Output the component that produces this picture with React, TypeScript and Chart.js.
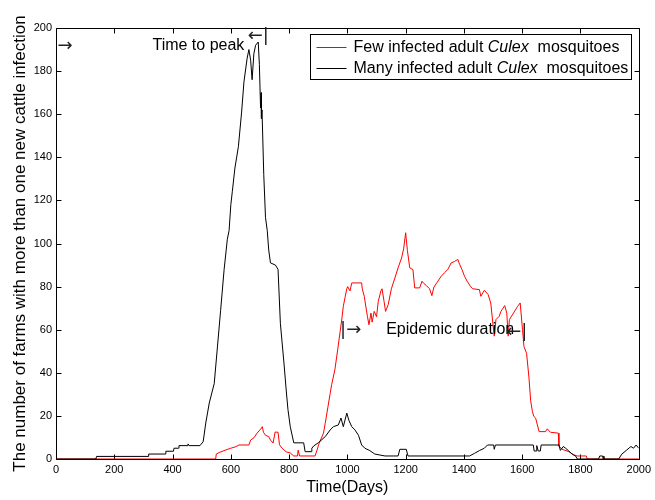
import React, { useEffect, useRef } from "react";
import { Chart, registerables } from "chart.js";

Chart.register(...registerables);

// ---- Data ----
const manyDays = [
  0, 137, 139, 316, 318, 375, 377, 403, 405, 420, 422, 450, 453, 457, 494, 505, 514, 526, 543, 554,
  565, 577, 588, 594, 600, 605, 614, 626, 637, 645, 656, 662, 668, 673, 679, 685, 694, 698, 702, 704,
  705, 707, 713, 719, 725, 730, 736, 753, 762, 770, 782, 790, 796, 804, 816, 850, 855, 876, 878, 884,
  901, 924, 941, 952, 969, 978, 986, 998, 1005, 1015, 1026, 1038, 1049, 1060, 1077, 1094, 1129, 1174, 1180, 1202,
  1208, 1419, 1436, 1453, 1470, 1481, 1502, 1504, 1508, 1638, 1641, 1648, 1650, 1655, 1662, 1665, 1726, 1731, 1741, 1749,
  1760, 1771, 1783, 1789, 1862, 1866, 1876, 1878, 1880, 1882, 1931, 1942, 1959, 1973, 1982, 1991, 2000,
];
const manyCounts = [
  0, 0, 1.2, 1.2, 2.3, 2.3, 3.6, 3.6, 5, 5, 6.2, 6.2, 7, 6.2, 6.2, 8, 16.7, 26, 35, 52,
  69, 88, 102, 106, 118, 124, 135, 145, 161, 175, 186, 190, 185, 176, 188, 192, 193.5, 183, 163, 170,
  158, 162, 132, 112, 106, 97, 91, 90, 88, 63, 45, 32, 23, 15, 7.5, 7.5, 3.4, 3.4, 5, 6,
  7.6, 10.4, 13.5, 15, 15.8, 19, 15, 21.3, 18, 15, 13.5, 11, 6.5, 5, 3.9, 2.3, 1.4, 1.4, 4.5, 4.5,
  1.4, 1.4, 2.6, 3.9, 5, 6.5, 6.5, 4.5, 6.5, 6.5, 3.7, 3.7, 6.2, 3.7, 3.7, 6.5, 6.5, 4, 5.8, 5,
  3.7, 2.3, 1.4, 0, 0, 1.4, 1.4, 0, 1.4, 0, 0, 2.3, 4.2, 5.8, 5, 6.5, 5,
];

const fewDays = [
  0, 548, 550, 560, 583, 600, 617, 628, 662, 668, 679, 690, 702, 708, 712, 719, 730, 736, 745, 752,
  762, 767, 776, 790, 804, 816, 829, 831, 836, 889, 896, 903, 918, 924, 933, 941, 946, 957, 967, 975,
  981, 986, 992, 998, 1001, 1009, 1015, 1049, 1051, 1058, 1063, 1069, 1074, 1081, 1085, 1092, 1100, 1106, 1115, 1119,
  1126, 1131, 1140, 1151, 1163, 1174, 1186, 1193, 1200, 1206, 1214, 1225, 1231, 1248, 1256, 1262, 1271, 1282, 1290, 1297,
  1308, 1322, 1333, 1345, 1356, 1367, 1379, 1385, 1393, 1402, 1411, 1422, 1430, 1453, 1458, 1470, 1483, 1492, 1504, 1510,
  1521, 1527, 1540, 1547, 1552, 1556, 1570, 1584, 1593, 1601, 1606, 1615, 1623, 1629, 1635, 1640, 1646, 1652, 1658, 1680,
  1686, 1697, 1724, 1726, 1737, 1760, 1777, 1789, 1820, 1823, 2000,
];
const fewCounts = [
  0, 0, 2.3, 3, 4.2, 5, 5.7, 6.5, 6.5, 8.8, 9.8, 12, 13.8, 15, 12.4, 11, 10.4, 8.8, 7.4, 12.5,
  12.4, 6.6, 5, 3.3, 2.8, 1.4, 1.4, 4.1, 1.4, 1.4, 4.2, 7.3, 12, 16.6, 24, 30.5, 34.5, 41.4, 51, 59,
  65, 70.8, 75, 79, 80, 78, 81.7, 81.7, 79, 75.5, 71, 66, 62.3, 67.7, 63.5, 68.5, 66, 73.2, 78, 79,
  73, 68.5, 71.6, 79, 84, 88.7, 93.3, 97.5, 105, 96.7, 88.7, 87.9, 79.4, 79.4, 82.5, 81.5, 80.5, 79, 75.8, 79.8,
  82, 84.8, 86.4, 88, 91, 91.6, 92.6, 90.4, 88, 84.8, 82.5, 80.2, 79, 78.6, 75.5, 78.3, 76.3, 72.4, 57, 64.7,
  66.2, 68.5, 71.2, 67.7, 57, 64.7, 67.7, 70.8, 72.4, 60, 52.2, 49, 38, 27, 22, 19.7, 19, 15.8, 12.7, 12.7,
  14, 12.4, 12, 6, 4.5, 3.4, 1.9, 1.4, 1.4, 0, 0,
];

const xTickStep = 200;
const yTickStep = 20;
const xRange = [0, 2000];
const yRange = [0, 200];

const seriesNames = [
  ["Few infected adult ", "Culex", "  mosquitoes"],
  ["Many infected adult ", "Culex", "  mosquitoes"],
];
const seriesColors = ["#ff0000", "#000000"];

const annotationTexts = ["\u2192", "Time to peak", "\u2190|", "|\u2192", "Epidemic duration", "\u2190|"];
const annotationIsSymbol = [true, false, true, true, false, true];
const annotationDays = [5, 331, 658, 975, 1133, 1545];
const annotationValues = [191.5, 192, 196, 59.5, 60, 58.6];

const xTitle = "Time(Days)";
const yTitle = "The number of farms with more than one new cattle infection";

const FONT = '"Liberation Sans", Arial, Helvetica, sans-serif';
const SYMFONT = '"DejaVu Sans", sans-serif';

const matlabPlugin = {
  id: "matlabBox",
  beforeDatasetsDraw(chart: any) {
    const { ctx, chartArea: a, scales } = chart;
    const xs = scales.x;
    const ys = scales.y;
    ctx.save();
    ctx.strokeStyle = "#000";
    ctx.lineWidth = 1;
    const L = Math.round(a.left) + 0.5;
    const R = Math.round(a.right) + 0.5;
    const T = Math.round(a.top) + 0.5;
    const B = Math.round(a.bottom) + 0.5;
    ctx.beginPath();
    ctx.rect(L, T, R - L, B - T);
    ctx.stroke();
    const tl = 5;
    ctx.beginPath();
    xs.ticks.forEach((t: any) => {
      const p = Math.round(xs.getPixelForValue(t.value)) + 0.5;
      ctx.moveTo(p, B);
      ctx.lineTo(p, B - tl);
      ctx.moveTo(p, T);
      ctx.lineTo(p, T + tl);
    });
    ys.ticks.forEach((t: any) => {
      const p = Math.round(ys.getPixelForValue(t.value)) + 0.5;
      ctx.moveTo(L, p);
      ctx.lineTo(L + tl, p);
      ctx.moveTo(R, p);
      ctx.lineTo(R - tl, p);
    });
    ctx.stroke();
    ctx.restore();
  },
  afterDatasetsDraw(chart: any) {
    const { ctx, chartArea: a, scales } = chart;
    const xs = scales.x;
    const ys = scales.y;
    ctx.save();
    ctx.lineWidth = 1;

    // annotations
    ctx.fillStyle = "#000";
    ctx.textBaseline = "middle";
    ctx.textAlign = "left";
    annotationTexts.forEach((txt, i) => {
      ctx.font = annotationIsSymbol[i] ? `18px ${SYMFONT}` : `16px ${FONT}`;
      ctx.fillStyle = annotationIsSymbol[i] ? "#222" : "#000";
      ctx.fillText(txt, xs.getPixelForValue(annotationDays[i]), ys.getPixelForValue(annotationValues[i]));
    });

    // legend
    const normal = `16px ${FONT}`;
    const italic = `italic 16px ${FONT}`;
    const widths = seriesNames.map((parts) =>
      parts.reduce((s, p, j) => {
        ctx.font = j === 1 ? italic : normal;
        return s + ctx.measureText(p).width;
      }, 0)
    );
    const maxW = Math.max(...widths);
    const padL = 6, lineLen = 30, gap = 7, padR = 3, rowH = 21;
    const boxW = Math.round(padL + lineLen + gap + maxW + padR);
    const boxH = 45;
    const bx = Math.round(a.right - 8 - boxW) + 0.5;
    const by = Math.round(a.top + 6) + 0.5;
    ctx.fillStyle = "#fff";
    ctx.fillRect(bx, by, boxW, boxH);
    ctx.strokeStyle = "#000";
    ctx.strokeRect(bx, by, boxW, boxH);
    seriesNames.forEach((parts, i) => {
      const cy = Math.round(by + 12.5 + i * rowH) + 0.5;
      ctx.strokeStyle = seriesColors[i];
      ctx.beginPath();
      ctx.moveTo(bx + padL, cy);
      ctx.lineTo(bx + padL + lineLen, cy);
      ctx.stroke();
      let tx = bx + padL + lineLen + gap;
      ctx.fillStyle = "#000";
      parts.forEach((p, j) => {
        ctx.font = j === 1 ? italic : normal;
        ctx.fillText(p, tx, cy);
        tx += ctx.measureText(p).width;
      });
    });
    ctx.restore();
  },
};

export default function App() {
  const ref = useRef<HTMLCanvasElement | null>(null);
  useEffect(() => {
    if (!ref.current) return;
    const chart = new Chart(ref.current, {
      type: "line",
      data: {
        datasets: [
          {
            label: "Few",
            data: fewDays.map((d, i) => ({ x: d, y: fewCounts[i] })),
            borderColor: seriesColors[0],
            borderWidth: 1,
            pointRadius: 0,
            tension: 0,
            fill: false,
            order: 1,
          },
          {
            label: "Many",
            data: manyDays.map((d, i) => ({ x: d, y: manyCounts[i] })),
            borderColor: seriesColors[1],
            borderWidth: 1,
            pointRadius: 0,
            tension: 0,
            fill: false,
            order: 0,
          },
        ],
      },
      options: {
        animation: false,
        responsive: false,
        layout: { padding: { left: 0, top: 28, right: 13, bottom: 0 } },
        plugins: { legend: { display: false }, tooltip: { enabled: false } },
        scales: {
          x: {
            type: "linear",
            min: xRange[0],
            max: xRange[1],
            grid: { display: false, drawTicks: false },
            border: { display: false },
            ticks: {
              stepSize: xTickStep,
              padding: 4,
              color: "#000",
              font: { family: FONT, size: 11 },
              maxRotation: 0,
              callback: (v: any) => String(v),
            },
            title: { display: true, text: xTitle, color: "#000", font: { family: FONT, size: 16 }, padding: { top: 0, bottom: 3 } },
            afterFit: (s: any) => { s.height = 41; },
          },
          y: {
            type: "linear",
            min: yRange[0],
            max: yRange[1],
            grid: { display: false, drawTicks: false },
            border: { display: false },
            ticks: {
              stepSize: yTickStep,
              padding: 4,
              color: "#000",
              font: { family: FONT, size: 11 },
              callback: (v: any) => String(v),
            },
            title: { display: true, text: yTitle, color: "#000", font: { family: FONT, size: 17 }, padding: { top: 10, bottom: 0 } },
            afterFit: (s: any) => { s.width = 56; },
          },
        },
      },
      plugins: [matlabPlugin],
    });
    return () => chart.destroy();
  }, []);
  return (
    <div style={{ position: "fixed", left: 0, top: 0, width: 655, height: 500, background: "#fff" }}>
      <canvas ref={ref} width={655} height={500} style={{ display: "block" }} />
    </div>
  );
}
